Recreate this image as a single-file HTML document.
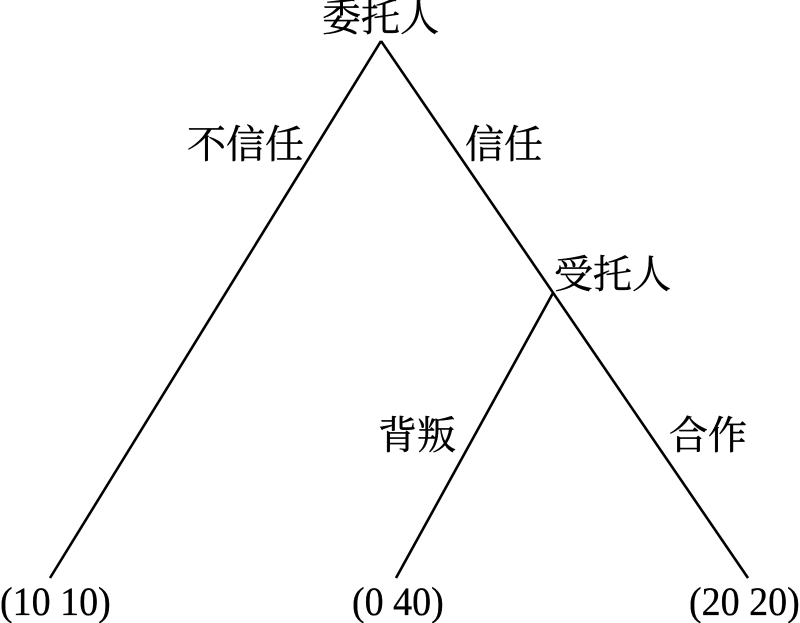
<!DOCTYPE html>
<html lang="zh">
<head>
<meta charset="utf-8">
<style>
html,body{margin:0;padding:0;background:#fff;width:800px;height:623px;overflow:hidden}
svg{display:block}
text{fill:#000}
.c{font-family:"Liberation Serif","Noto Serif CJK SC",serif;font-size:39px;stroke:#000;stroke-width:.45px}
.n{font-family:"Liberation Serif",serif;font-size:40px;stroke:#000;stroke-width:.3px}
</style>
</head>
<body>
<svg width="800" height="623" viewBox="0 0 800 623" xmlns="http://www.w3.org/2000/svg">
<g stroke="#000" stroke-width="2.6" fill="none">
<line x1="381" y1="41" x2="50" y2="578"/>
<line x1="381" y1="41" x2="748" y2="578"/>
<line x1="553" y1="293" x2="396" y2="578"/>
</g>
<text class="c" x="322" y="31">委托人</text>
<text class="c" x="187" y="158">不信任</text>
<text class="c" x="465" y="158">信任</text>
<text class="c" x="554" y="288">受托人</text>
<text class="c" x="378" y="449">背叛</text>
<text class="c" x="669" y="449">合作</text>
<text class="n" transform="translate(0 615) scale(.95 1)">(10 10)</text>
<text class="n" transform="translate(352 615) scale(.95 1)">(0 40)</text>
<text class="n" transform="translate(689 615) scale(.95 1)">(20 20)</text>
</svg>
</body>
</html>
